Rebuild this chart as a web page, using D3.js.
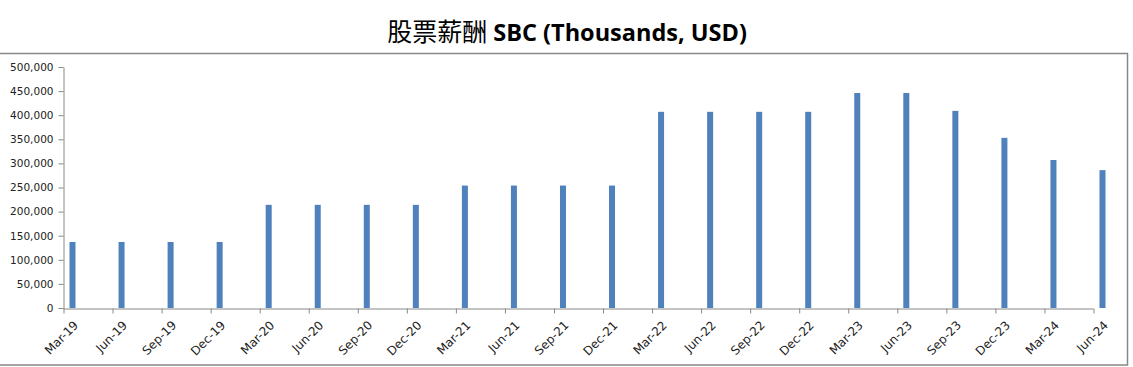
<!DOCTYPE html>
<html><head><meta charset="utf-8">
<script src="https://cdn.jsdelivr.net/npm/d3@7"></script>
<style>body{margin:0;background:#fff;}svg{display:block;}</style>
</head><body>
<svg id="chart" width="1133" height="367"></svg>
<script>
const categories = ["Mar-19","Jun-19","Sep-19","Dec-19","Mar-20","Jun-20","Sep-20","Dec-20","Mar-21","Jun-21","Sep-21","Dec-21","Mar-22","Jun-22","Sep-22","Dec-22","Mar-23","Jun-23","Sep-23","Dec-23","Mar-24","Jun-24"];
const sbcValues = [137000,137000,137000,137000,214000,214000,214000,214000,254000,254000,254000,254000,407000,407000,407000,407000,446000,446000,409000,353000,307000,286000];
const yTicks = [0,50000,100000,150000,200000,250000,300000,350000,400000,450000,500000];
const titleCJK = "股票薪酬";
const titleLatin = " SBC (Thousands, USD)";

const svg = d3.select("#chart");
const x = d3.scalePoint().domain(categories).range([63, 1093]);
const y = d3.scaleLinear().domain([0, 500000]).range([308, 67]);

// border box
svg.append("rect").attr("x", -1).attr("y", 53.5).attr("width", 1128.5).attr("height", 311.5)
  .attr("fill", "none").attr("stroke", "#888").attr("stroke-width", 1.5);

// title
const t = svg.append("text").attr("x", 567).attr("y", 41).attr("text-anchor", "middle")
  .attr("fill", "#000");
t.append("tspan").attr("font-family", "'Noto Sans CJK SC'").attr("font-size", 25).attr("font-weight", 400).text(titleCJK);
t.append("tspan").attr("font-family", "'Open Sans', 'Liberation Sans', sans-serif").attr("font-size", 23.5).attr("font-weight", 700).text(titleLatin);

// y axis
const yAxis = d3.axisLeft(y).tickValues(yTicks).tickSize(5).tickSizeOuter(0)
  .tickFormat(d3.format(","));
const gy = svg.append("g").attr("transform", "translate(63.5,0)").call(yAxis);
gy.select(".domain").attr("stroke", "#888");
gy.selectAll(".tick line").attr("stroke", "#888");
gy.selectAll(".tick text").attr("font-family", "'DejaVu Sans', sans-serif").attr("font-size", 10.5)
  .attr("fill", "#222").attr("x", -10);

// x axis
const xAxis = d3.axisBottom(x).tickSize(5).tickSizeOuter(0).tickFormat("");
const gx = svg.append("g").attr("transform", "translate(0,308.5)").call(xAxis);
gx.select(".domain").attr("stroke", "#888");
gx.selectAll(".tick line").attr("stroke", "#888").attr("transform", "translate(0.5,0)");

// x labels
svg.append("g").selectAll("text").data(categories).join("text")
  .attr("transform", d => `translate(${x(d) + 13},${323}) rotate(-45)`)
  .attr("text-anchor", "end")
  .attr("dy", "0.35em")
  .attr("font-family", "'DejaVu Sans', sans-serif").attr("font-size", 12).attr("fill", "#222")
  .text(d => d);

// bars
svg.append("g").selectAll("rect").data(categories).join("rect")
  .attr("x", d => x(d) + 6.5)
  .attr("width", 6)
  .attr("y", (d, i) => y(sbcValues[i]))
  .attr("height", (d, i) => y(0) - y(sbcValues[i]))
  .attr("fill", "#4f81bd");
</script>
</body></html>
